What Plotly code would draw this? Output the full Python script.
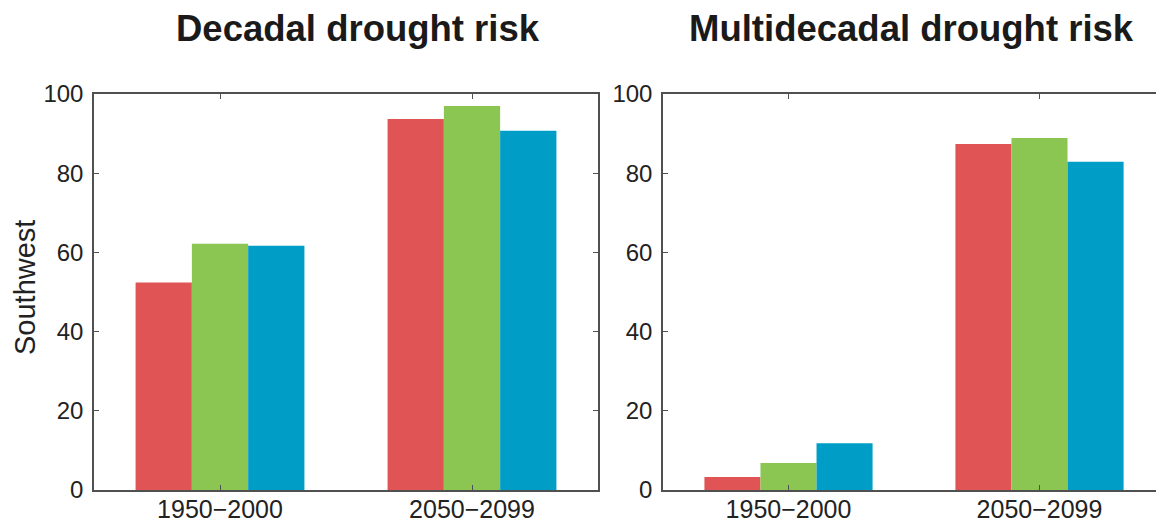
import plotly.graph_objects as go

periods = ["1950\u22122000", "2050\u22122099"]
decadal_red = [52.4, 93.7]
decadal_green = [62.2, 97.0]
decadal_blue = [61.7, 90.7]
multi_red = [3.3, 87.4]
multi_green = [6.8, 88.9]
multi_blue = [11.8, 82.9]
yticks = [0, 20, 40, 60, 80, 100]

colors = ["#E05456", "#8BC652", "#009EC6"]
OFF = 7                     # page offset of the figure inside the browser window
W, H = 1164 - OFF, 521 - OFF
FONT = "Liberation Sans, Arial, Helvetica, sans-serif"


def px(x):
    return (x - OFF) / W


def py(y):
    return 1 - (y - OFF) / H


fig = go.Figure()
xpos = [1, 2]
for vals, c in zip([decadal_red, decadal_green, decadal_blue], colors):
    fig.add_trace(go.Bar(x=xpos, y=vals, marker=dict(color=c, line=dict(width=0)),
                         xaxis="x", yaxis="y", showlegend=False))
for vals, c in zip([multi_red, multi_green, multi_blue], colors):
    fig.add_trace(go.Bar(x=xpos, y=vals, marker=dict(color=c, line=dict(width=0)),
                         xaxis="x2", yaxis="y2", showlegend=False))
# invisible point so the right-side tick axis of the second panel is drawn
fig.add_trace(go.Scatter(x=[1], y=[0], xaxis="x2", yaxis="y3", mode="markers",
                         marker=dict(opacity=0), showlegend=False, hoverinfo="skip"))

ydom = [py(489), py(93)]
x1dom = [px(93), px(597)]
x2dom = [px(662), 1.0]
axcol = "#505050"
ytickfont = dict(family=FONT, size=24, color="#222222")
xtickfont = dict(family=FONT, size=25, color="#222222")

xcommon = dict(range=[0.5, 2.5], tickvals=xpos, ticktext=periods, ticks="inside",
               ticklen=5, tickwidth=1.2, tickcolor=axcol, showline=True, linecolor=axcol,
               linewidth=1.5, mirror="ticks", showgrid=False, zeroline=False,
               tickfont=xtickfont, automargin=False, ticklabelstandoff=-4)
ycommon = dict(range=[0, 100], tickvals=yticks, ticks="inside", ticklen=5, tickwidth=1.2,
               tickcolor=axcol, showline=True, linecolor=axcol, linewidth=1.5,
               showgrid=False, zeroline=False, tickfont=ytickfont, domain=ydom,
               automargin=False, ticklabelstandoff=4)

fig.update_layout(
    template="none",
    width=W, height=H, margin=dict(l=0, r=0, t=0, b=0, pad=0),
    paper_bgcolor="white", plot_bgcolor="white",
    barmode="group", bargap=0.33, bargroupgap=0,
    showlegend=False,
    xaxis=dict(domain=x1dom, anchor="y", **xcommon),
    xaxis2=dict(domain=x2dom, anchor="y2", **xcommon),
    yaxis=dict(anchor="x", mirror="ticks", **ycommon),
    yaxis2=dict(anchor="x2", mirror=False, **ycommon),
    yaxis3=dict(range=[0, 100], tickvals=yticks, ticks="inside", ticklen=5, tickwidth=1.2,
                tickcolor=axcol, showline=False, showgrid=False, zeroline=False,
                showticklabels=False, overlaying="y2", side="right", anchor="x2",
                automargin=False),
    annotations=[
        dict(text="Southwest", x=px(24), y=py(287), xref="paper", yref="paper",
             showarrow=False, xanchor="center", yanchor="middle", textangle=-90,
             font=dict(family=FONT, size=29, color="#222222")),
        dict(text="<b>Decadal drought risk</b>", x=px(357), y=py(28), xref="paper", yref="paper",
             showarrow=False, xanchor="center", yanchor="middle",
             font=dict(family=FONT, size=36.5, color="#1a1a1a")),
        dict(text="<b>Multidecadal drought risk</b>", x=px(910), y=py(28), xref="paper", yref="paper",
             showarrow=False, xanchor="center", yanchor="middle",
             font=dict(family=FONT, size=36.5, color="#1a1a1a")),
    ],
)

fig.write_html("out.html")
